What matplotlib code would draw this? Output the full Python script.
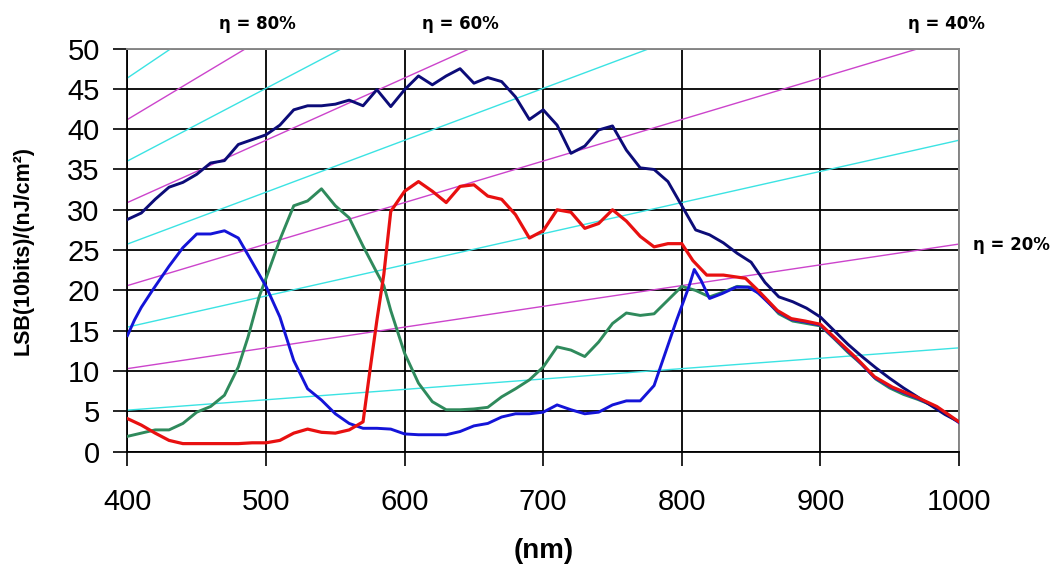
import numpy as np
import matplotlib.pyplot as plt

plt.rcParams['font.family'] = 'Liberation Sans'

# Spectral response curves (wavelength in nm, LSB per nJ/cm^2)
navy_nm = [400, 410, 420, 430, 440, 450, 460, 470, 480, 490, 500, 510, 520, 530,
           540, 550, 560, 570, 580, 590, 600, 610, 620, 630, 640, 650, 660, 670,
           680, 690, 700, 710, 720, 730, 740, 750, 760, 770, 780, 790, 800, 810,
           820, 830, 840, 850, 860, 870, 880, 890, 900, 910, 920, 930, 940, 950,
           960, 970, 980, 990, 1000]
navy_val = [28.8, 29.6, 31.3, 32.8, 33.4, 34.4, 35.8, 36.1, 38.1, 38.7, 39.3, 40.5,
            42.4, 42.9, 42.9, 43.1, 43.6, 42.9, 44.9, 42.8, 44.9, 46.6, 45.5, 46.6,
            47.5, 45.7, 46.4, 45.9, 44.0, 41.2, 42.4, 40.5, 37.0, 37.9, 39.9, 40.4,
            37.4, 35.2, 35.0, 33.5, 30.5, 27.5, 26.9, 25.9, 24.6, 23.5, 21.0, 19.2,
            18.6, 17.8, 16.7, 15.0, 13.3, 11.8, 10.4, 9.1, 7.9, 6.8, 5.7, 4.6, 3.7]

blue_nm = [400, 405, 410, 418, 430, 440, 450, 460, 470, 480, 490, 500, 510, 520,
           530, 540, 550, 560, 570, 580, 590, 600, 610, 620, 630, 640, 650, 660,
           670, 680, 690, 700, 710, 720, 730, 740, 750, 760, 770, 780, 786, 796,
           805, 809, 814, 820, 829, 839, 848, 855, 869, 879, 889, 900, 913, 926,
           939, 952, 969, 984, 1000]
blue_val = [14.4, 16.3, 17.9, 20.0, 23.0, 25.3, 27.0, 27.0, 27.4, 26.5, 23.5, 20.5,
            16.7, 11.3, 7.8, 6.4, 4.7, 3.5, 2.9, 2.9, 2.8, 2.2, 2.1, 2.1, 2.1, 2.5,
            3.2, 3.5, 4.3, 4.7, 4.7, 4.9, 5.8, 5.2, 4.7, 4.9, 5.8, 6.3, 6.3, 8.2,
            11.2, 16.2, 20.4, 22.6, 21.2, 19.0, 19.6, 20.4, 20.4, 19.7, 17.4, 16.4,
            16.1, 15.7, 13.6, 11.5, 9.2, 7.9, 6.7, 5.5, 3.6]

green_nm = [400, 410, 420, 430, 440, 450, 460, 470, 480, 487, 495, 500, 510, 520,
            530, 540, 550, 560, 570, 580, 585, 590, 600, 610, 620, 630, 640, 650,
            660, 670, 680, 690, 700, 710, 720, 730, 740, 750, 760, 770, 780, 790,
            800, 810, 820, 830, 840, 850, 860, 870, 880, 890, 900, 910, 920, 930,
            940, 950, 960, 970, 980]
green_val = [1.9, 2.3, 2.7, 2.7, 3.5, 4.9, 5.6, 7.0, 10.5, 14.2, 19.2, 21.5, 26.3,
             30.5, 31.1, 32.6, 30.5, 29.0, 25.5, 22.2, 20.6, 17.5, 12.2, 8.5, 6.2,
             5.2, 5.2, 5.3, 5.5, 6.8, 7.8, 8.9, 10.5, 13.0, 12.6, 11.8, 13.6, 15.9,
             17.2, 16.9, 17.1, 18.8, 20.5, 20.0, 19.2, 19.8, 20.5, 20.4, 19.0, 17.1,
             16.2, 15.9, 15.6, 14.0, 12.3, 10.8, 9.0, 7.9, 7.1, 6.5, 5.8]

red_nm = [400, 410, 420, 430, 440, 450, 460, 470, 480, 490, 500, 510, 520, 530,
          540, 550, 560, 570, 575, 580, 585, 590, 600, 610, 620, 630, 640, 650,
          660, 670, 680, 690, 700, 710, 720, 730, 740, 750, 760, 770, 780, 790,
          800, 808, 818, 830, 846, 855, 869, 879, 889, 900, 913, 926, 939, 952,
          969, 984, 1000]
red_val = [4.1, 3.3, 2.3, 1.4, 1.0, 1.0, 1.0, 1.0, 1.0, 1.1, 1.1, 1.4, 2.3, 2.8,
           2.4, 2.3, 2.7, 3.7, 10.1, 16.3, 22.0, 29.8, 32.3, 33.5, 32.3, 30.9, 32.9,
           33.1, 31.7, 31.3, 29.4, 26.5, 27.4, 30.0, 29.7, 27.7, 28.3, 30.0, 28.6,
           26.7, 25.4, 25.8, 25.8, 23.7, 21.9, 21.9, 21.5, 20.0, 17.5, 16.5, 16.2,
           15.8, 13.7, 11.6, 9.3, 8.0, 6.8, 5.6, 3.7]

# Constant quantum efficiency guide lines (LSB = C * eta * lambda)
eta_magenta = [20, 40, 60, 80]
eta_cyan = [10, 30, 50, 70, 90]
eta_const = 10.3 / 400 / 20
eta_labels = ['η = 80%', 'η = 60%', 'η = 40%']
eta_label_x = [494, 640, 991]

fig = plt.figure(figsize=(10.62, 5.67), dpi=100)
ax = fig.add_axes([0.12, 0.2034, 0.783, 0.711])

lam = np.linspace(400, 1000, 200)
for eta in eta_cyan:
    ax.plot(lam, eta_const * eta * lam, color='#3be3e3', lw=1.0, zorder=2)
for eta in eta_magenta:
    ax.plot(lam, eta_const * eta * lam, color='#cc44cc', lw=1.0, zorder=2)

ax.plot(green_nm, green_val, color='#2f8a5c', lw=2.1, zorder=3)
ax.plot(blue_nm, blue_val, color='#1414d8', lw=2.1, zorder=3)
ax.plot(navy_nm, navy_val, color='#0c0c78', lw=2.1, zorder=3)
ax.plot(red_nm, red_val, color='#e81010', lw=2.3, zorder=3)

ax.set_xlim(400, 1000)
ax.set_ylim(0, 50)
ax.set_xticks(range(400, 1001, 100))
ax.set_yticks(range(0, 51, 5))
ax.grid(True, color='black', lw=1.3, zorder=1)
ax.set_axisbelow(True)

ax.tick_params(axis='both', labelsize=21, direction='out', color='black', width=1.2)
ax.tick_params(axis='y', length=10, pad=10)
ax.tick_params(axis='x', length=10, pad=16)
for side in ['top', 'right']:
    ax.spines[side].set_color('#888888')
    ax.spines[side].set_linewidth(1.4)
for side in ['left', 'bottom']:
    ax.spines[side].set_color('black')
    ax.spines[side].set_linewidth(1.3)

ax.set_ylabel('LSB(10bits)/(nJ/cm²)', fontsize=15.5, fontweight='bold', labelpad=24)
ax.set_xlabel('(nm)', fontsize=20, fontweight='bold', labelpad=16)

for txt, xl in zip(eta_labels, eta_label_x):
    ax.text(xl, 53.1, txt, ha='center', va='center', fontsize=12,
            fontweight='bold', family='DejaVu Sans', clip_on=False)
ax.text(1010, 25.6, 'η = 20%', ha='left', va='center', fontsize=12,
        fontweight='bold', family='DejaVu Sans', clip_on=False)

fig.savefig('out.png', dpi=100, facecolor='white')
